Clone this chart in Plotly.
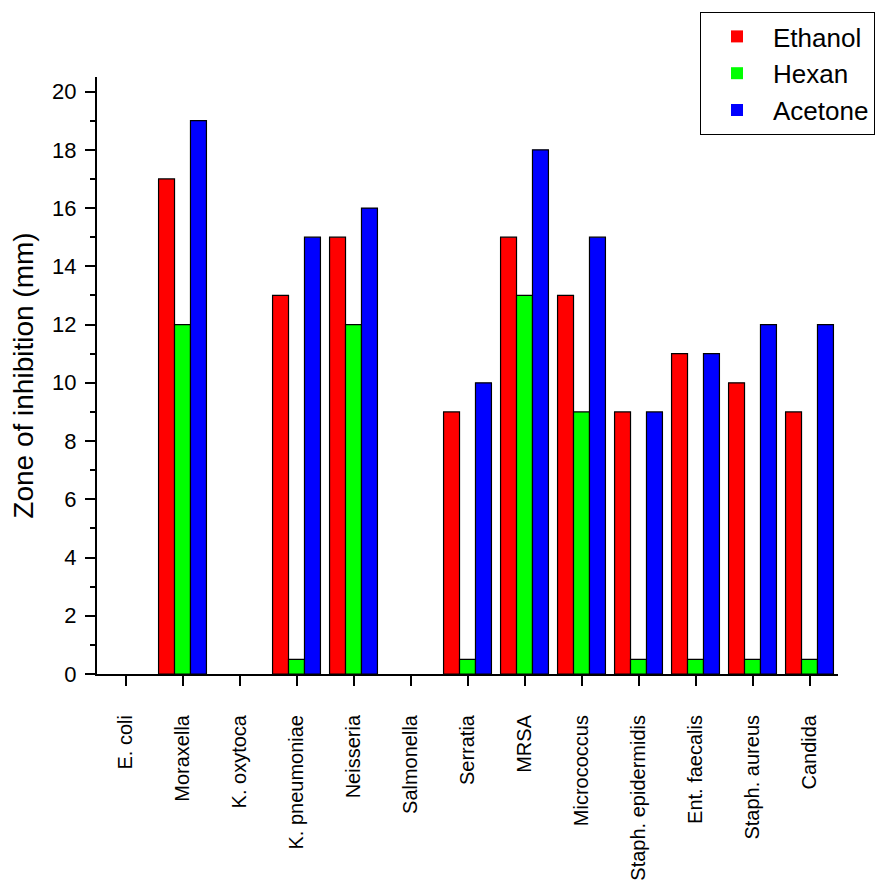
import plotly.graph_objects as go

categories = ["E. coli", "Moraxella", "K. oxytoca", "K. pneumoniae", "Neisseria",
              "Salmonella", "Serratia", "MRSA", "Micrococcus", "Staph. epidermidis",
              "Ent. faecalis", "Staph. aureus", "Candida"]
ethanol = [0, 17, 0, 13, 15, 0, 9, 15, 13, 9, 11, 10, 9]
hexan = [0, 12, 0, 0.5, 12, 0, 0.5, 13, 9, 0.5, 0.5, 0.5, 0.5]
acetone = [0, 19, 0, 15, 16, 0, 10, 18, 15, 9, 11, 12, 12]
y_ticks = [0, 2, 4, 6, 8, 10, 12, 14, 16, 18, 20]

fig = go.Figure()
for name, vals, col in [("Ethanol", ethanol, "#FF0000"),
                        ("Hexan", hexan, "#00FF00"),
                        ("Acetone", acetone, "#0000FF")]:
    fig.add_trace(go.Bar(
        x=categories, y=vals, name=name,
        marker=dict(color=col,
                    line=dict(color="black", width=[1.2 if v > 0 else 0 for v in vals]))))

W, H = 875, 878
fig.update_layout(
    width=W, height=H,
    paper_bgcolor="white", plot_bgcolor="white",
    margin=dict(l=89, r=45, t=69, b=212, autoexpand=False),
    barmode="group", bargap=0.16, bargroupgap=0,
    font=dict(family="Arial, Liberation Sans, sans-serif", color="black"),
    legend=dict(xref="container", yref="container",
                x=692 / W, y=1 - 4 / H, xanchor="left", yanchor="top",
                bgcolor="white", bordercolor="black", borderwidth=1,
                font=dict(size=26), itemwidth=62, tracegroupgap=0),
    showlegend=True,
)
fig.update_xaxes(
    type="category", range=[-0.5, 12.5],
    showline=True, linecolor="black", linewidth=2,
    ticks="outside", ticklen=10, tickwidth=2, tickcolor="black",
    tickangle=-90, tickfont=dict(size=20), ticklabelstandoff=21,
    showgrid=False, zeroline=False,
)
fig.update_yaxes(
    range=[0, 20.5], tickvals=y_ticks,
    showline=True, linecolor="black", linewidth=2,
    ticks="outside", ticklen=10, tickwidth=2, tickcolor="black",
    minor=dict(ticks="outside", ticklen=5, tickwidth=2, tickcolor="black", dtick=1),
    tickfont=dict(size=22), ticklabelstandoff=4, showgrid=False, zeroline=False,
    title=dict(text="Zone of inhibition (mm)", font=dict(size=28), standoff=12),
)

fig.write_html("out.html")
